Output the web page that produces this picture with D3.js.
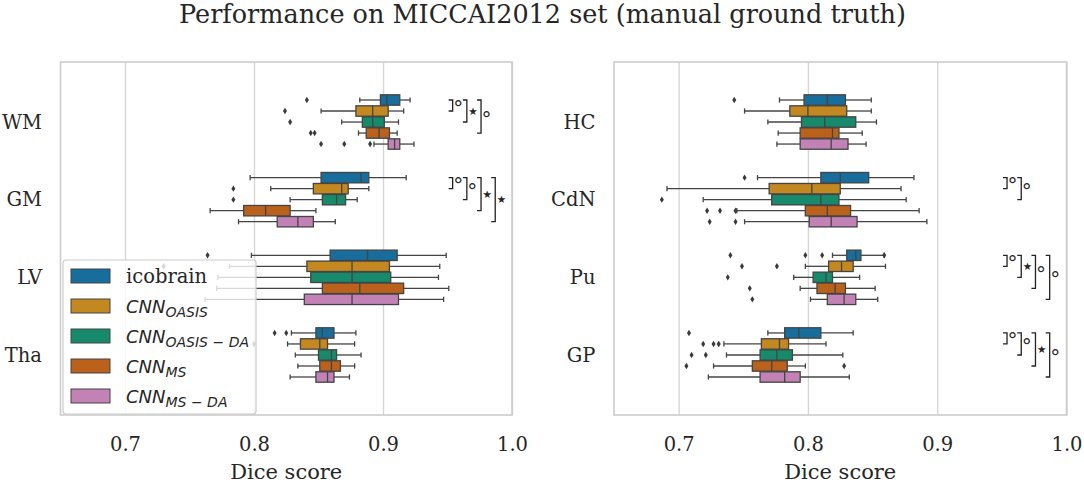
<!DOCTYPE html>
<html>
<head>
<meta charset="utf-8">
<script src="https://cdn.jsdelivr.net/npm/d3@7"></script>
<style>
  body { margin: 0; background: #fff; }
  text { fill: #262626; }
</style>
</head>
<body>
<div id="chart"></div>
<script>
// models (hue order) and their colours
const models = ["icobrain", "CNN_OASIS", "CNN_OASIS − DA", "CNN_MS", "CNN_MS − DA"];
const colors = ["#176d9c", "#c38820", "#168a6a", "#ba611b", "#c282b6"];
const xTicks = [0.7, 0.8, 0.9, 1.0];

const leftRegions = ["WM", "GM", "LV", "Tha"];
const rightRegions = ["HC", "CdN", "Pu", "GP"];

// each row: [low whisker, q1, median, q3, high whisker], one row per model
const WM = [
  [0.882, 0.898, 0.903, 0.913, 0.921],
  [0.852, 0.879, 0.892, 0.904, 0.916],
  [0.868, 0.884, 0.892, 0.901, 0.912],
  [0.881, 0.887, 0.897, 0.905, 0.911],
  [0.893, 0.904, 0.909, 0.913, 0.924]];
const WM_fliers = [[0.841], [0.824], [0.828], [0.844, 0.847], [0.852, 0.870, 0.890]];

const GM = [
  [0.797, 0.852, 0.883, 0.889, 0.918],
  [0.813, 0.846, 0.868, 0.873, 0.889],
  [0.828, 0.853, 0.864, 0.871, 0.880],
  [0.766, 0.792, 0.809, 0.828, 0.848],
  [0.788, 0.818, 0.834, 0.846, 0.863]];
const GM_fliers = [[], [0.784], [0.784], [], []];

const LV = [
  [0.798, 0.859, 0.888, 0.911, 0.949],
  [0.781, 0.841, 0.876, 0.905, 0.944],
  [0.772, 0.844, 0.876, 0.906, 0.943],
  [0.771, 0.853, 0.882, 0.916, 0.951],
  [0.762, 0.839, 0.876, 0.912, 0.947]];
const LV_fliers = [[0.764], [0.730], [], [], []];

const Tha = [
  [0.829, 0.848, 0.853, 0.862, 0.879],
  [0.826, 0.836, 0.851, 0.857, 0.878],
  [0.832, 0.850, 0.860, 0.864, 0.883],
  [0.834, 0.851, 0.860, 0.867, 0.878],
  [0.828, 0.848, 0.857, 0.862, 0.874]];
const Tha_fliers = [[0.816, 0.825], [0.800], [], [], []];

const HC = [
  [0.778, 0.797, 0.815, 0.829, 0.849],
  [0.751, 0.786, 0.800, 0.830, 0.849],
  [0.769, 0.795, 0.813, 0.837, 0.853],
  [0.777, 0.794, 0.819, 0.824, 0.842],
  [0.776, 0.794, 0.818, 0.831, 0.845]];
const HC_fliers = [[0.743], [], [], [], []];

const CdN = [
  [0.761, 0.810, 0.825, 0.847, 0.882],
  [0.691, 0.770, 0.803, 0.825, 0.872],
  [0.719, 0.772, 0.810, 0.824, 0.876],
  [0.745, 0.798, 0.815, 0.833, 0.886],
  [0.751, 0.801, 0.818, 0.838, 0.892]];
const CdN_fliers = [[0.751], [], [0.687], [0.722, 0.732, 0.744], [0.724, 0.744]];

const Pu = [
  [0.819, 0.830, 0.837, 0.841, 0.859],
  [0.798, 0.816, 0.826, 0.835, 0.860],
  [0.789, 0.804, 0.814, 0.819, 0.840],
  [0.794, 0.807, 0.821, 0.829, 0.852],
  [0.802, 0.815, 0.828, 0.837, 0.854]];
const Pu_fliers = [[0.740, 0.798, 0.811, 0.859], [0.749, 0.776], [0.738], [0.755], [0.757]];

const GP = [
  [0.769, 0.782, 0.793, 0.810, 0.835],
  [0.735, 0.764, 0.778, 0.785, 0.814],
  [0.737, 0.763, 0.776, 0.788, 0.827],
  [0.727, 0.757, 0.772, 0.784, 0.798],
  [0.723, 0.763, 0.782, 0.794, 0.832]];
const GP_fliers = [[0.708], [0.719, 0.727, 0.731], [0.710, 0.721], [0.706, 0.828], []];

// significance of icobrain vs model k+1 (° = not significant, ★ = significant)
const WM_sig = ["°", "★", "°"];
const GM_sig = ["°", "°", "★", "★"];
const CdN_sig = ["°", "°"];
const Pu_sig = ["°", "★", "°", "°"];
const GP_sig = ["°", "°", "★", "°"];

const boxes = {WM, GM, LV, Tha, HC, CdN, Pu, GP};
const fliers = {WM: WM_fliers, GM: GM_fliers, LV: LV_fliers, Tha: Tha_fliers,
  HC: HC_fliers, CdN: CdN_fliers, Pu: Pu_fliers, GP: GP_fliers};
const sigs = {WM: WM_sig, GM: GM_sig, CdN: CdN_sig, Pu: Pu_sig, GP: GP_sig};

const width = 1084, height = 483;
const plotTop = 62, plotBottom = 415;
const serif = "DejaVu Serif";
const lineColor = "#444444";
const hueStep = 0.1418;   // in category units
const boxH = 10.4;

const svg = d3.select("#chart").append("svg")
  .attr("width", width)
  .attr("height", height);

const y = d3.scaleLinear().domain([-0.773, 3.773]).range([plotTop, plotBottom]);

const panels = [
  {regions: leftRegions, range: [60.5, 512]},
  {regions: rightRegions, range: [614, 1066.5]}
];

const diamond = "M0,-3.2L2,0L0,3.2L-2,0Z";

panels.forEach((p, pi) => {
  const x = d3.scaleLinear().domain([0.65, 1.0]).range(p.range);
  const g = svg.append("g");

  // grid
  g.append("g")
    .attr("transform", `translate(0,${plotBottom})`)
    .call(d3.axisBottom(x).tickValues(xTicks).tickSize(-(plotBottom - plotTop)).tickFormat(""))
    .call(a => a.select(".domain").remove())
    .call(a => a.selectAll(".tick line").attr("stroke", "#d6d6d6").attr("stroke-width", 1.4));

  // frame
  g.append("rect")
    .attr("x", p.range[0]).attr("y", plotTop)
    .attr("width", p.range[1] - p.range[0]).attr("height", plotBottom - plotTop)
    .attr("fill", "none").attr("stroke", "#cccccc").attr("stroke-width", 1.6);

  // x tick labels
  g.append("g")
    .attr("transform", `translate(0,${plotBottom})`)
    .call(d3.axisBottom(x).tickValues(xTicks).tickSize(0).tickPadding(22).tickFormat(d3.format(".1f")))
    .call(a => a.select(".domain").remove())
    .call(a => a.selectAll("text").attr("font-family", serif).attr("font-size", 19.5).attr("fill", "#262626"));

  // y category labels
  g.append("g")
    .attr("transform", `translate(${p.range[0]},0)`)
    .call(d3.axisLeft(y).tickValues(d3.range(p.regions.length)).tickSize(0).tickPadding(18.5)
      .tickFormat(i => p.regions[i]))
    .call(a => a.select(".domain").remove())
    .call(a => a.selectAll("text").attr("font-family", serif).attr("font-size", 19.5).attr("fill", "#262626"));

  // axis title
  g.append("text")
    .attr("x", (p.range[0] + p.range[1]) / 2).attr("y", 479)
    .attr("text-anchor", "middle")
    .attr("font-family", serif).attr("font-size", 21)
    .text("Dice score");

  // boxes
  p.regions.forEach((reg, ci) => {
    const rows = boxes[reg];
    rows.forEach((s, j) => {
      const yc = y(ci + (j - 2) * hueStep);
      const bg = g.append("g").attr("stroke", lineColor).attr("stroke-width", 1.3);
      bg.append("line").attr("x1", x(s[0])).attr("x2", x(s[1])).attr("y1", yc).attr("y2", yc);
      bg.append("line").attr("x1", x(s[3])).attr("x2", x(s[4])).attr("y1", yc).attr("y2", yc);
      [s[0], s[4]].forEach(v => bg.append("line")
        .attr("x1", x(v)).attr("x2", x(v))
        .attr("y1", yc - boxH / 4).attr("y2", yc + boxH / 4));
      bg.append("rect")
        .attr("x", x(s[1])).attr("y", yc - boxH / 2)
        .attr("width", x(s[3]) - x(s[1])).attr("height", boxH)
        .attr("fill", colors[j]);
      bg.append("line").attr("x1", x(s[2])).attr("x2", x(s[2]))
        .attr("y1", yc - boxH / 2).attr("y2", yc + boxH / 2);
      g.selectAll(null).data(fliers[reg][j]).join("path")
        .attr("d", diamond)
        .attr("transform", v => `translate(${x(v)},${yc})`)
        .attr("fill", "#3a3a3a");
    });

    // significance brackets
    (sigs[reg] || []).forEach((sym, k) => {
      const bx = x(0.954 + 0.011 * k);
      const y0 = y(ci - 2 * hueStep);
      const y1 = y(ci + (k - 1) * hueStep);
      g.append("path")
        .attr("d", `M${bx - 4},${y0}H${bx}V${y1}H${bx - 4}`)
        .attr("fill", "none").attr("stroke", "#222").attr("stroke-width", 1.3);
      const ym = (y0 + y1) / 2;
      if (sym === "★") {
        g.append("text").attr("x", bx + 1.5).attr("y", ym + 3.5)
          .attr("font-family", "DejaVu Sans").attr("font-size", 10.5)
          .text(sym);
      } else {
        g.append("text").attr("x", bx + 0.5).attr("y", ym + 9)
          .attr("font-family", "DejaVu Sans").attr("font-size", 20)
          .text(sym);
      }
    });
  });
});

// legend
const lg = svg.append("g");
lg.append("rect")
  .attr("x", 63).attr("y", 260).attr("width", 193).attr("height", 154).attr("rx", 3)
  .attr("fill", "#fff").attr("fill-opacity", 0.8)
  .attr("stroke", "#cccccc").attr("stroke-width", 1.2);
models.forEach((m, j) => {
  const yc = 276 + j * 30;
  lg.append("rect")
    .attr("x", 71).attr("y", yc - 7).attr("width", 39).attr("height", 14)
    .attr("fill", colors[j]).attr("stroke", lineColor).attr("stroke-width", 1);
  const [base, sub] = m.split("_");
  if (!sub) {
    lg.append("text").attr("x", 126).attr("y", yc + 7)
      .attr("font-family", serif).attr("font-size", 19.5).text(base);
  } else {
    const t = lg.append("text").attr("x", 126).attr("y", yc + 6.5)
      .attr("font-family", "DejaVu Sans").attr("font-style", "italic").attr("font-size", 18);
    t.append("tspan").text(base);
    t.append("tspan").attr("dy", 4).attr("font-size", 14).text(sub);
  }
});

// title
svg.append("text")
  .attr("x", 542.5).attr("y", 23)
  .attr("text-anchor", "middle")
  .attr("font-family", serif).attr("font-size", 25.5)
  .text("Performance on MICCAI2012 set (manual ground truth)");
</script>
</body>
</html>
